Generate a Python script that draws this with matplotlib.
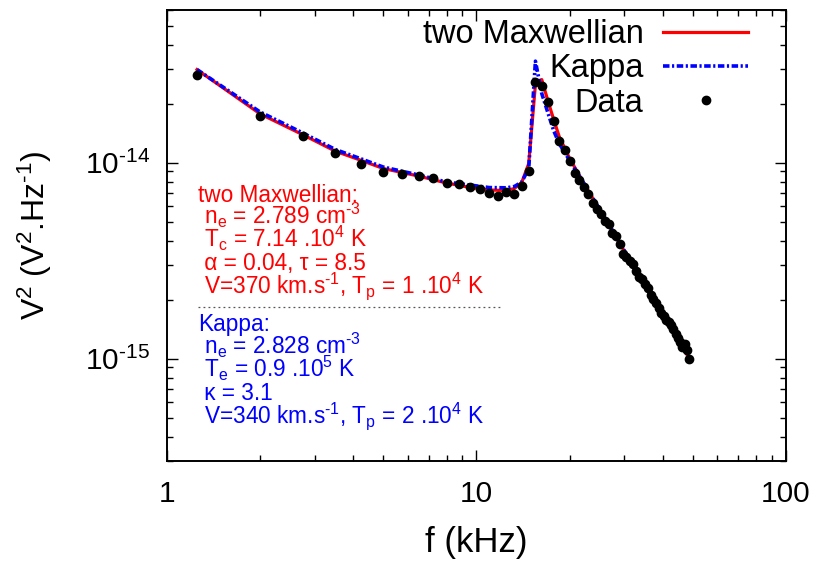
import matplotlib
matplotlib.use("Agg")
import matplotlib.pyplot as plt
from matplotlib.lines import Line2D

plt.rcParams['font.family'] = ['Liberation Sans', 'DejaVu Sans']
plt.rcParams['mathtext.fontset'] = 'custom'
plt.rcParams['mathtext.rm'] = 'Liberation Sans'
plt.rcParams['mathtext.it'] = 'Liberation Sans:italic'
plt.rcParams['mathtext.bf'] = 'Liberation Sans:bold'

# ---------------- data ----------------
freq = [1.25, 2.0, 2.75, 3.5, 4.25, 5.0, 5.75, 6.5, 7.25, 8.0, 8.75, 9.5, 10.25,
        11.0, 11.75, 12.5, 13.25, 14.0, 14.75, 15.5, 16.25, 17.0, 17.75, 18.5,
        19.25, 20.0, 20.75, 21.5, 22.25, 23.0, 23.75, 24.5, 25.25, 26.0, 26.75,
        27.5, 28.25, 29.0, 29.75, 30.5, 31.25, 32.0, 32.75, 33.5, 34.25, 35.0,
        35.75, 36.5, 37.25, 38.0, 38.75, 39.5, 40.25, 41.0, 41.75, 42.5, 43.25,
        44.0, 44.75, 45.5, 46.25, 47.0, 47.75, 48.5]
v_data = [2.81e-14, 1.72e-14, 1.36e-14, 1.12e-14, 9.77e-15, 8.92e-15, 8.76e-15,
          8.51e-15, 8.34e-15, 7.84e-15, 7.74e-15, 7.54e-15, 7.31e-15, 7.03e-15,
          6.73e-15, 7.07e-15, 6.92e-15, 7.59e-15, 9.00e-15, 2.59e-14, 2.47e-14,
          2.04e-14, 1.62e-14, 1.29e-14, 1.16e-14, 1.02e-14, 8.89e-15, 8.19e-15,
          7.54e-15, 6.87e-15, 6.21e-15, 5.82e-15, 5.46e-15, 5.06e-15, 4.83e-15,
          4.39e-15, 4.24e-15, 3.86e-15, 3.43e-15, 3.31e-15, 3.16e-15, 3.02e-15,
          2.81e-15, 2.62e-15, 2.56e-15, 2.39e-15, 2.28e-15, 2.10e-15, 2.02e-15,
          1.91e-15, 1.82e-15, 1.70e-15, 1.64e-15, 1.58e-15, 1.53e-15, 1.49e-15,
          1.41e-15, 1.33e-15, 1.28e-15, 1.22e-15, 1.14e-15, 1.18e-15, 1.11e-15,
          1.00e-15]

model_freq = [1.25, 2.0, 2.75, 3.5, 4.25, 5.0, 6.5, 8.0, 9.5, 11.0, 12.5, 13.25,
              14.0, 14.75, 15.5, 16.25, 17.0, 17.75, 18.5, 20.0, 22.25, 26.0,
              30.5, 35.0, 40.25, 44.75, 48.5]
v_maxwell = [2.98e-14, 1.77e-14, 1.385e-14, 1.142e-14, 1.024e-14, 9.32e-15,
             8.53e-15, 7.86e-15, 7.47e-15, 7.24e-15, 7.20e-15, 7.37e-15,
             7.91e-15, 9.88e-15, 2.50e-14, 2.65e-14, 2.07e-14, 1.66e-14,
             1.357e-14, 1.048e-14, 7.81e-15, 5.18e-15, 3.39e-15, 2.36e-15,
             1.62e-15, 1.25e-15, 1.01e-15]
v_kappa = [2.98e-14, 1.81e-14, 1.414e-14, 1.165e-14, 1.042e-14, 9.48e-15,
           8.64e-15, 7.95e-15, 7.68e-15, 7.45e-15, 7.43e-15, 7.54e-15,
           7.95e-15, 9.32e-15, 3.29e-14, 2.25e-14, 1.80e-14, 1.457e-14,
           1.25e-14, 1.024e-14, 7.81e-15, 5.21e-15, 3.41e-15, 2.36e-15,
           1.62e-15, 1.25e-15, 1.01e-15]

series_labels = ["two Maxwellian", "Kappa", "Data"]
x_ticks = [1, 10, 100]
x_tick_labels = ["1", "10", "100"]
y_ticks = [1e-15, 1e-14]
y_tick_labels = ["10$^{\\text{-15}}$", "10$^{\\text{-14}}$"]

maxwell_text = ["two Maxwellian:",
                " n$_\\mathrm{e}$ = 2.789 cm$^{\\text{-3}}$",
                " T$_\\mathrm{c}$ = 7.14 .10$^{4}$ K",
                " \u03b1 = 0.04, \u03c4 = 8.5",
                " V=370 km.s$^{\\text{-1}}$, T$_\\mathrm{p}$ = 1 .10$^{4}$ K"]
kappa_text = ["Kappa:",
              " n$_\\mathrm{e}$ = 2.828 cm$^{\\text{-3}}$",
              " T$_\\mathrm{e}$ = 0.9 .10$^{5}$ K",
              " \u03ba = 3.1",
              " V=340 km.s$^{\\text{-1}}$, T$_\\mathrm{p}$ = 2 .10$^{4}$ K"]

# ---------------- figure ----------------
W, H = 819, 563
fig = plt.figure(figsize=(W / 100, H / 100), dpi=100)
L, R, T, B = 167, 786, 10, 461
ax = fig.add_axes([L / W, 1 - B / H, (R - L) / W, (B - T) / H])

ax.plot(model_freq, v_maxwell, color='#ff0000', lw=2.3, label=series_labels[0], zorder=2)
ax.plot(model_freq, v_kappa, color='#0000ff', lw=2.6, dashes=(1.8, 0.7, 0.6, 0.7),
        label=series_labels[1], zorder=3)
ax.plot(freq, v_data, 'o', color='black', ms=6.0, label=series_labels[2], zorder=4)

ax.set_xscale('log')
ax.set_yscale('log')
ax.set_xlim(1, 100)
ax.set_ylim(3e-16, 6e-14)

ax.set_xticks(x_ticks)
ax.set_xticklabels(x_tick_labels)
ax.set_yticks(y_ticks)
ax.set_yticklabels(y_tick_labels)
ax.tick_params(which='both', direction='in', top=True, right=True, width=1.0, colors='black')
ax.tick_params(which='major', length=8, labelsize=21.5, pad=12)
ax.tick_params(which='minor', length=4.5)
ax.tick_params(axis='x', which='major', pad=14)
for sp in ax.spines.values():
    sp.set_linewidth(1.4)

ax.set_xlabel("f (kHz)", fontsize=25)
ax.set_ylabel("V$^{2}$ (V$^{2}$.Hz$^{\\text{-1}}$)", fontsize=23)
ax.xaxis.set_label_coords(0.5, -0.145)
ax.yaxis.set_label_coords(-0.183, 0.5)

leg = ax.legend(loc='upper right', bbox_to_anchor=((748 - L) / (R - L), (B - 19) / (B - T)),
                frameon=False, fontsize=23.5, markerfirst=False, handlelength=2.6,
                handletextpad=0.6, labelspacing=0.1, borderpad=0, borderaxespad=0,
                numpoints=1)


def px_to_ax(px, py):
    return (px - L) / (R - L), (B - py) / (B - T)


tfs = 16.3
baselines_m = [201.5, 224, 247, 270, 293]
for i, s in enumerate(maxwell_text):
    x0, y0 = px_to_ax(198, baselines_m[i])
    ax.text(x0, y0, s, color='#ff0000', fontsize=tfs, transform=ax.transAxes,
            va='baseline', ha='left')
baselines_k = [331, 354.5, 377, 400, 423]
for i, s in enumerate(kappa_text):
    x0, y0 = px_to_ax(198, baselines_k[i])
    ax.text(x0, y0, s, color='#0000ff', fontsize=tfs, transform=ax.transAxes,
            va='baseline', ha='left')

xa, ya = px_to_ax(198, 307)
xb, _ = px_to_ax(500, 307)
ax.add_line(Line2D([xa, xb], [ya, ya], transform=ax.transAxes, color='#555555',
                   lw=0.9, ls=(0, (1.5, 2.5))))

fig.savefig("out.png", dpi=100)
